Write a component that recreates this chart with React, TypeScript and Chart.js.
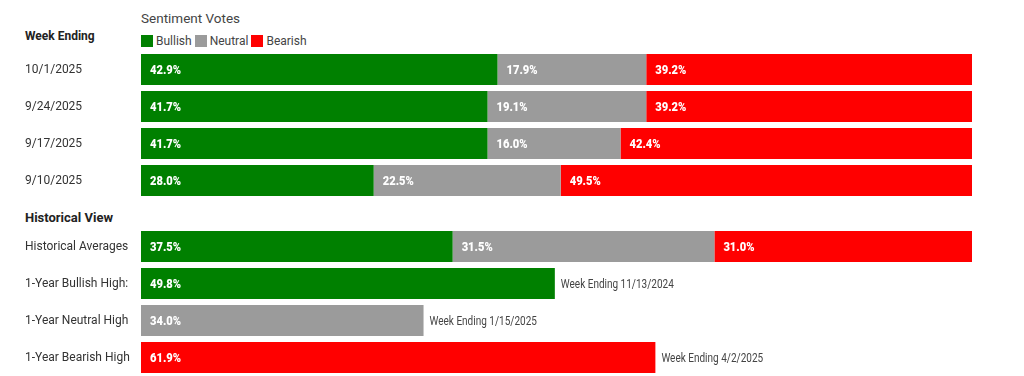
import React, { useEffect, useRef } from "react";
import { Chart, registerables } from "chart.js";

Chart.register(...registerables);

const weekLabels = ["10/1/2025", "9/24/2025", "9/17/2025", "9/10/2025"];
const weekBullish = [42.9, 41.7, 41.7, 28.0];
const weekNeutral = [17.9, 19.1, 16.0, 22.5];
const weekBearish = [39.2, 39.2, 42.4, 49.5];
const weekNotes = ["", "", "", ""];

const histLabels = ["Historical Averages", "1-Year Bullish High:", "1-Year Neutral High", "1-Year Bearish High"];
const histBullish = [37.5, 49.8, null, null];
const histNeutral = [31.5, null, 34.0, null];
const histBearish = [31.0, null, null, 61.9];
const histNotes = ["", "Week Ending 11/13/2024", "Week Ending 1/15/2025", "Week Ending 4/2/2025"];

const seriesNames = ["Bullish", "Neutral", "Bearish"];
const seriesColors = ["#008000", "#9b9b9b", "#ff0000"];

function drawNarrow(ctx: any, text: string, x: number, y: number, sx: number) {
  ctx.save();
  ctx.translate(x, y);
  ctx.scale(sx, 1);
  ctx.fillText(text, 0, 0);
  ctx.restore();
}

const labelPlugin = {
  id: "segLabels",
  afterDatasetsDraw(chart: any) {
    const ctx = chart.ctx;
    const notes: string[] = chart.options.plugins.segLabels?.notes || [];
    const rowEnd: number[] = [];
    const rowY: number[] = [];
    ctx.save();
    ctx.textBaseline = "middle";
    ctx.textAlign = "left";
    chart.data.datasets.forEach((ds: any, i: number) => {
      const meta = chart.getDatasetMeta(i);
      meta.data.forEach((el: any, j: number) => {
        const v = ds.data[j];
        if (v == null) return;
        const p = el.getProps(["x", "y", "base"], true);
        const left = Math.min(p.x, p.base);
        const right = Math.max(p.x, p.base);
        ctx.fillStyle = "#ffffff";
        ctx.font = "900 13px Roboto, sans-serif";
        drawNarrow(ctx, v.toFixed(1) + "%", left + 9, p.y + 1, 0.86);
        rowEnd[j] = Math.max(rowEnd[j] ?? -Infinity, right);
        rowY[j] = p.y;
      });
    });
    notes.forEach((n, j) => {
      if (!n || rowEnd[j] == null) return;
      ctx.fillStyle = "#444444";
      ctx.font = "12.5px Roboto, sans-serif";
      drawNarrow(ctx, n, rowEnd[j] + 6, rowY[j] + 1, 0.8);
    });
    ctx.restore();
  },
};

function makeConfig(labels: string[], series: (number | null)[][], notes: string[]): any {
  return {
    type: "bar",
    data: {
      labels,
      datasets: series.map((d, i) => ({
        label: seriesNames[i],
        data: d,
        backgroundColor: seriesColors[i],
        borderWidth: 0,
        barPercentage: 31 / 37,
        categoryPercentage: 1,
      })),
    },
    options: {
      indexAxis: "y",
      animation: false,
      responsive: true,
      maintainAspectRatio: false,
      layout: { padding: { left: 25, right: 52, top: 0, bottom: 0 } },
      plugins: {
        legend: { display: false },
        tooltip: { enabled: false },
        segLabels: { notes },
      },
      scales: {
        x: { stacked: true, min: 0, max: 100, display: false },
        y: {
          stacked: true,
          grid: { display: false },
          border: { display: false },
          ticks: {
            crossAlign: "far",
            color: "#333333",
            font: { family: "Roboto, sans-serif", size: 12 },
          },
          afterFit: (scale: any) => {
            scale.width = 116;
            scale.paddingTop = 0;
            scale.paddingBottom = 0;
          },
        },
      },
    },
    plugins: [labelPlugin],
  };
}

export default function App() {
  const topRef = useRef<HTMLCanvasElement>(null);
  const botRef = useRef<HTMLCanvasElement>(null);

  useEffect(() => {
    const c1 = new Chart(topRef.current!, makeConfig(weekLabels, [weekBullish, weekNeutral, weekBearish], weekNotes));
    const c2 = new Chart(botRef.current!, makeConfig(histLabels, [histBullish, histNeutral, histBearish], histNotes));
    return () => {
      c1.destroy();
      c2.destroy();
    };
  }, []);

  const base: React.CSSProperties = { position: "absolute", fontFamily: "Roboto, sans-serif", color: "#333", whiteSpace: "nowrap", lineHeight: 1 };

  return (
    <div style={{ position: "absolute", left: 0, top: 0, width: 1024, height: 376, background: "#fff", overflow: "hidden" }}>
      <div style={{ ...base, left: 141, top: 12, fontSize: 13.5, color: "#444" }}>Sentiment Votes</div>
      <div style={{ ...base, left: 25, top: 30, fontSize: 12, fontWeight: 700, color: "#222" }}>Week Ending</div>
      <div style={{ ...base, left: 141, top: 35, fontSize: 12, display: "flex", alignItems: "center", color: "#444" }}>
        {seriesNames.map((n, i) => (
          <span key={n} style={{ display: "flex", alignItems: "center", marginRight: 3 }}>
            <span style={{ display: "inline-block", width: 12, height: 12, background: seriesColors[i], marginRight: 3 }} />
            {n}
          </span>
        ))}
      </div>
      <div style={{ ...base, left: 25, top: 211, fontSize: 13, fontWeight: 700, color: "#222" }}>Historical View</div>
      <div style={{ position: "absolute", left: 0, top: 51, width: 1024, height: 148 }}>
        <canvas ref={topRef} />
      </div>
      <div style={{ position: "absolute", left: 0, top: 228, width: 1024, height: 148 }}>
        <canvas ref={botRef} />
      </div>
    </div>
  );
}
